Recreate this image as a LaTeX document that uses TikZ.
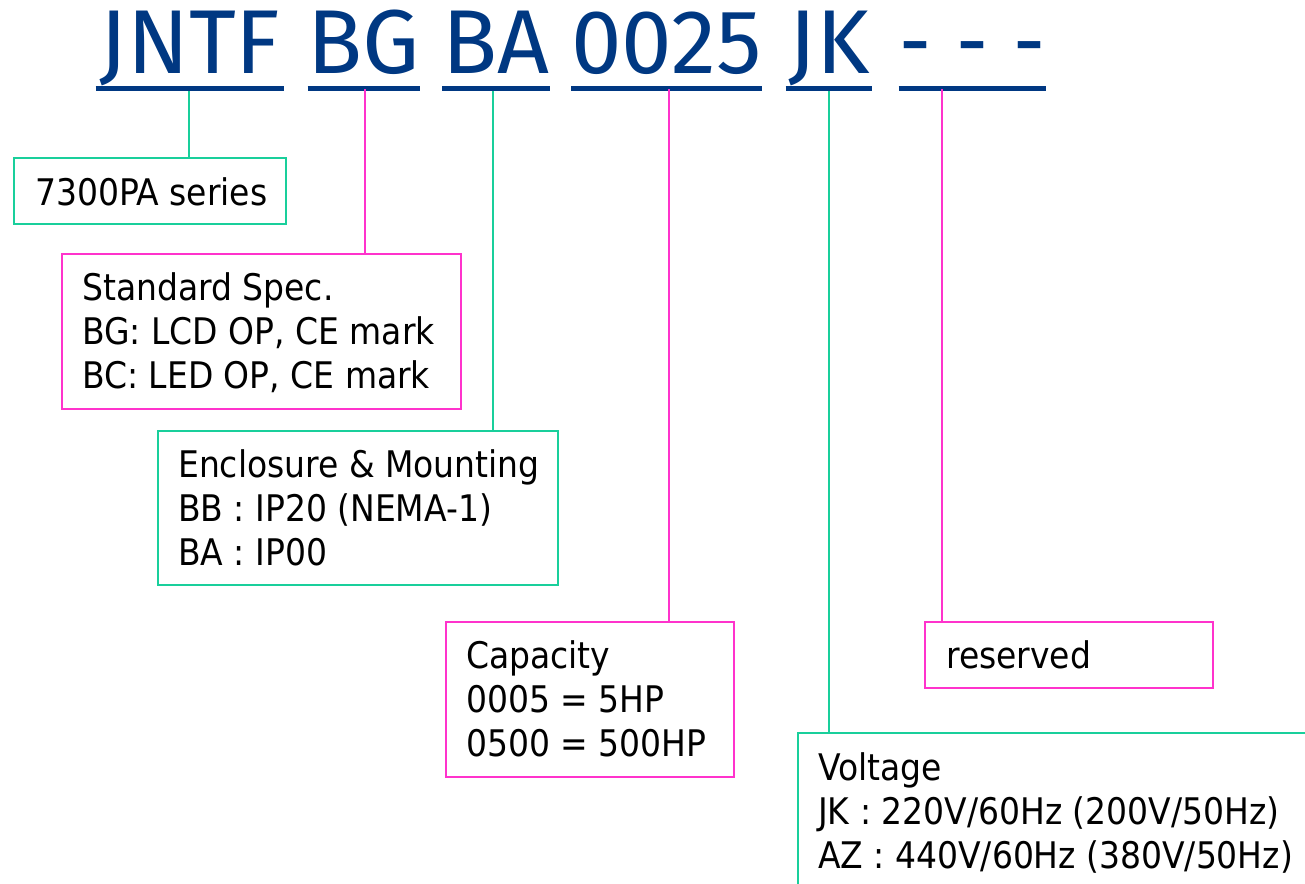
\documentclass[tikz,border=0pt]{standalone}
\usepackage{fontspec}
\setmainfont{DejaVu Sans Condensed}
\newfontfamily\titlefont{Fira Sans}
\usetikzlibrary{calc}
\definecolor{tblue}{RGB}{0,56,130}
\definecolor{mgreen}{RGB}{25,207,155}
\definecolor{mpink}{RGB}{255,51,204}
\newcommand{\tdash}{\resizebox{24pt}{\height}{-}}
\begin{document}
\begin{tikzpicture}[x=0.75pt,y=-0.75pt,
  title/.style={inner sep=0pt, font=\titlefont\fontsize{68pt}{68pt}\selectfont, text=tblue, anchor=base},
  uline/.style={draw=tblue, line width=3.75pt},
  gline/.style={draw=mgreen, line width=1.5pt},
  pline/.style={draw=mpink, line width=1.5pt},
  gbox/.style={draw=mgreen, line width=1.5pt, inner sep=0pt, anchor=north west},
  pbox/.style={draw=mpink, line width=1.5pt, inner sep=0pt, anchor=north west},
  txt/.style={inner sep=0pt, anchor=base west, align=left, font=\fontsize{27.5pt}{33pt}\selectfont}]
\useasboundingbox (0,0) rectangle (1305,883);
\clip (0,0) rectangle (1305,883);
% title words
\node[title, minimum width=141pt] (w1) at (190,73) {JNTF};
\node[title, minimum width=81pt] (w2) at (364,73) {BG};
\node[title, minimum width=76.5pt] (w3) at (496,73) {BA};
\node[title, minimum width=140.25pt] (w4) at (666.5,73) {0025};
\node[title, minimum width=64.5pt] (w5) at (829,73) {JK};
\node[title, minimum width=110.25pt] (w6) at (972.5,73) {\tdash\hspace{19pt}\tdash\hspace{19pt}\tdash};
\foreach \w in {w1,w2,w3,w4,w5,w6}{
  \draw[uline] ($(\w.base west)+(0,15)$) -- ($(\w.base east)+(0,15)$);
}
% boxes
\node[gbox, minimum width=204pt, minimum height=49.5pt] (series) at (13,157) {};
\node[pbox, minimum width=299.25pt, minimum height=116.25pt] (spec) at (61,253) {};
\node[gbox, minimum width=300pt, minimum height=115.5pt] (encl) at (157,430) {};
\node[pbox, minimum width=216pt, minimum height=116.25pt] (cap) at (445,621) {};
\node[pbox, minimum width=216pt, minimum height=49.5pt] (res) at (924,621) {};
\node[gbox, minimum width=399.75pt, minimum height=126pt] (volt) at (797,732) {};
% texts (anchor base = baseline of the last line)
\node[txt] (tseries) at ($(series.north west)+(22,48)$) {7300PA series};
\node[txt] (tspec) at ($(spec.north west)+(21,135)$) {Standard Spec.\\BG: LCD OP, CE mark\\BC: LED OP, CE mark};
\node[txt] (tencl) at ($(encl.north west)+(21,135)$) {Enclosure \& Mounting\\BB : IP20 (NEMA-1)\\BA : IP00};
\node[txt] (tcap) at ($(cap.north west)+(21,135)$) {Capacity\\0005 = 5HP\\0500 = 500HP};
\node[txt] (tres) at ($(res.north west)+(22,47)$) {reserved};
\node[txt] (tvolt) at ($(volt.north west)+(21,136)$) {Voltage\\JK : 220V/60Hz (200V/50Hz)\\AZ : 440V/60Hz (380V/50Hz)};
% connectors
\coordinate (c1) at (189,91);
\coordinate (c2) at (365,89);
\coordinate (c3) at (493,91);
\coordinate (c4) at (669,89);
\coordinate (c5) at (829,91);
\coordinate (c6) at (942,89);
\draw[gline] (c1) -- (c1 |- series.north);
\draw[pline] (c2) -- (c2 |- spec.north);
\draw[gline] (c3) -- (c3 |- encl.north);
\draw[pline] (c4) -- (c4 |- cap.north);
\draw[gline] (c5) -- (c5 |- volt.north);
\draw[pline] (c6) -- (c6 |- res.north);
\end{tikzpicture}
\end{document}
